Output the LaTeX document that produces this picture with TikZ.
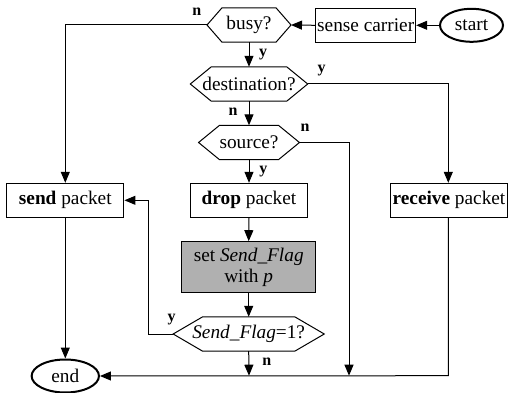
\documentclass[tikz,border=0pt]{standalone}
\usepackage{fontspec}
\setmainfont{Liberation Serif}
\newfontfamily\timesfont{Liberation Serif}
\usetikzlibrary{shapes.geometric,arrows.meta}
\definecolor{boxgray}{RGB}{176,176,176}
\newcommand\hexdraw[2]{\draw[line width=1pt] (#1.west) -- ([xshift=#2]#1.north west) -- ([xshift=-#2]#1.north east) -- (#1.east) -- ([xshift=-#2]#1.south east) -- ([xshift=#2]#1.south west) -- cycle;}
\tikzset{
  base/.style={inner sep=0pt, font=\timesfont\fontsize{19.3}{21}\selectfont, align=center},
  boxnode/.style={base, draw, line width=1pt, rectangle, minimum height=34pt},
  hexnode/.style={base, rectangle, minimum height=34pt},
  termnode/.style={base, draw, line width=2pt, ellipse, minimum height=33pt},
  conn/.style={line width=1pt},
  arr/.style={conn, -{Triangle[length=11pt,width=9pt]}},
  lab/.style={font=\timesfont\fontsize{16}{18}\selectfont\bfseries, inner sep=0pt}
}
\begin{document}
\begin{tikzpicture}[x=1pt,y=-1pt]
\useasboundingbox (0,0) rectangle (508,393);
% nodes
\node[hexnode, minimum width=83.6pt] (busy) at (249,25) {busy?};
\node[boxnode, minimum width=100pt] (sense) at (365.7,25.3) {sense carrier};
\node[termnode, minimum width=63pt] (start) at (471.5,25.3) {start};
\node[hexnode, minimum width=117pt] (dest) at (249,84) {destination?};
\node[hexnode, minimum width=100.5pt] (source) at (249,142.5) {source?};
\node[boxnode, minimum width=116.6pt] (drop) at (249,200.3) {\textbf{drop} packet};
\node[boxnode, minimum width=117.3pt] (send) at (65.3,200.3) {\textbf{send} packet};
\node[boxnode, minimum width=116.6pt] (recv) at (449,200.3) {\textbf{receive} packet};
\node[boxnode, fill=boxgray, minimum width=134pt, minimum height=51pt] (setflag) at (248.7,267.2) {set \textit{Send\_Flag}\\with \textit{p}};
\node[hexnode, minimum width=150.7pt] (flag) at (248.7,334) {\textit{Send\_Flag}=1?};
\node[termnode, minimum width=67.3pt] (end) at (65.3,376) {end};
\hexdraw{busy}{15pt}
\hexdraw{dest}{21pt}
\hexdraw{source}{21pt}
\hexdraw{flag}{29.5pt}
% junction coordinates
\coordinate (j1) at (249,375.7);
\coordinate (j2) at (349,375.7);
\coordinate (c1) at (65.3,25);
\coordinate (c2) at (448.3,84);
\coordinate (c3) at (349,142.5);
\coordinate (c4) at (148.3,334);
\coordinate (c5) at (148.3,200.3);
\coordinate (c6) at (448.3,375.7);
% connectors
\draw[arr] (start.west) -- (sense.east);
\draw[arr] (sense.west) -- (busy.east);
\draw[arr] (busy.south) -- (dest.north);
\draw[arr] (busy.west) -- (c1) -- (send.north);
\draw[arr] (dest.east) -- (c2) -- (recv.north -| c2);
\draw[arr] (dest.south) -- (source.north);
\draw[arr] (source.east) -- (c3) -- (j2);
\draw[arr] (source.south) -- (drop.north);
\draw[arr] (drop.south) -- (setflag.north);
\draw[arr] (setflag.south) -- (flag.north);
\draw[arr] (flag.west) -- (c4) -- (c5) -- (send.east);
\draw[arr] (flag.south) -- (j1);
\draw[arr] (send.south) -- (end.north);
\draw[arr] (recv.south -| c6) -- (c6) -- (end.east);
% labels
\node[lab] (l1) at (196.7,12) {n};
\node[lab] (l2) at (263,55) {y};
\node[lab] (l3) at (321.7,71) {y};
\node[lab] (l4) at (233,112) {n};
\node[lab] (l5) at (305,127.5) {n};
\node[lab] (l6) at (263.3,171.5) {y};
\node[lab] (l7) at (171.7,320) {y};
\node[lab] (l8) at (266.7,361.5) {n};
\end{tikzpicture}
\end{document}
